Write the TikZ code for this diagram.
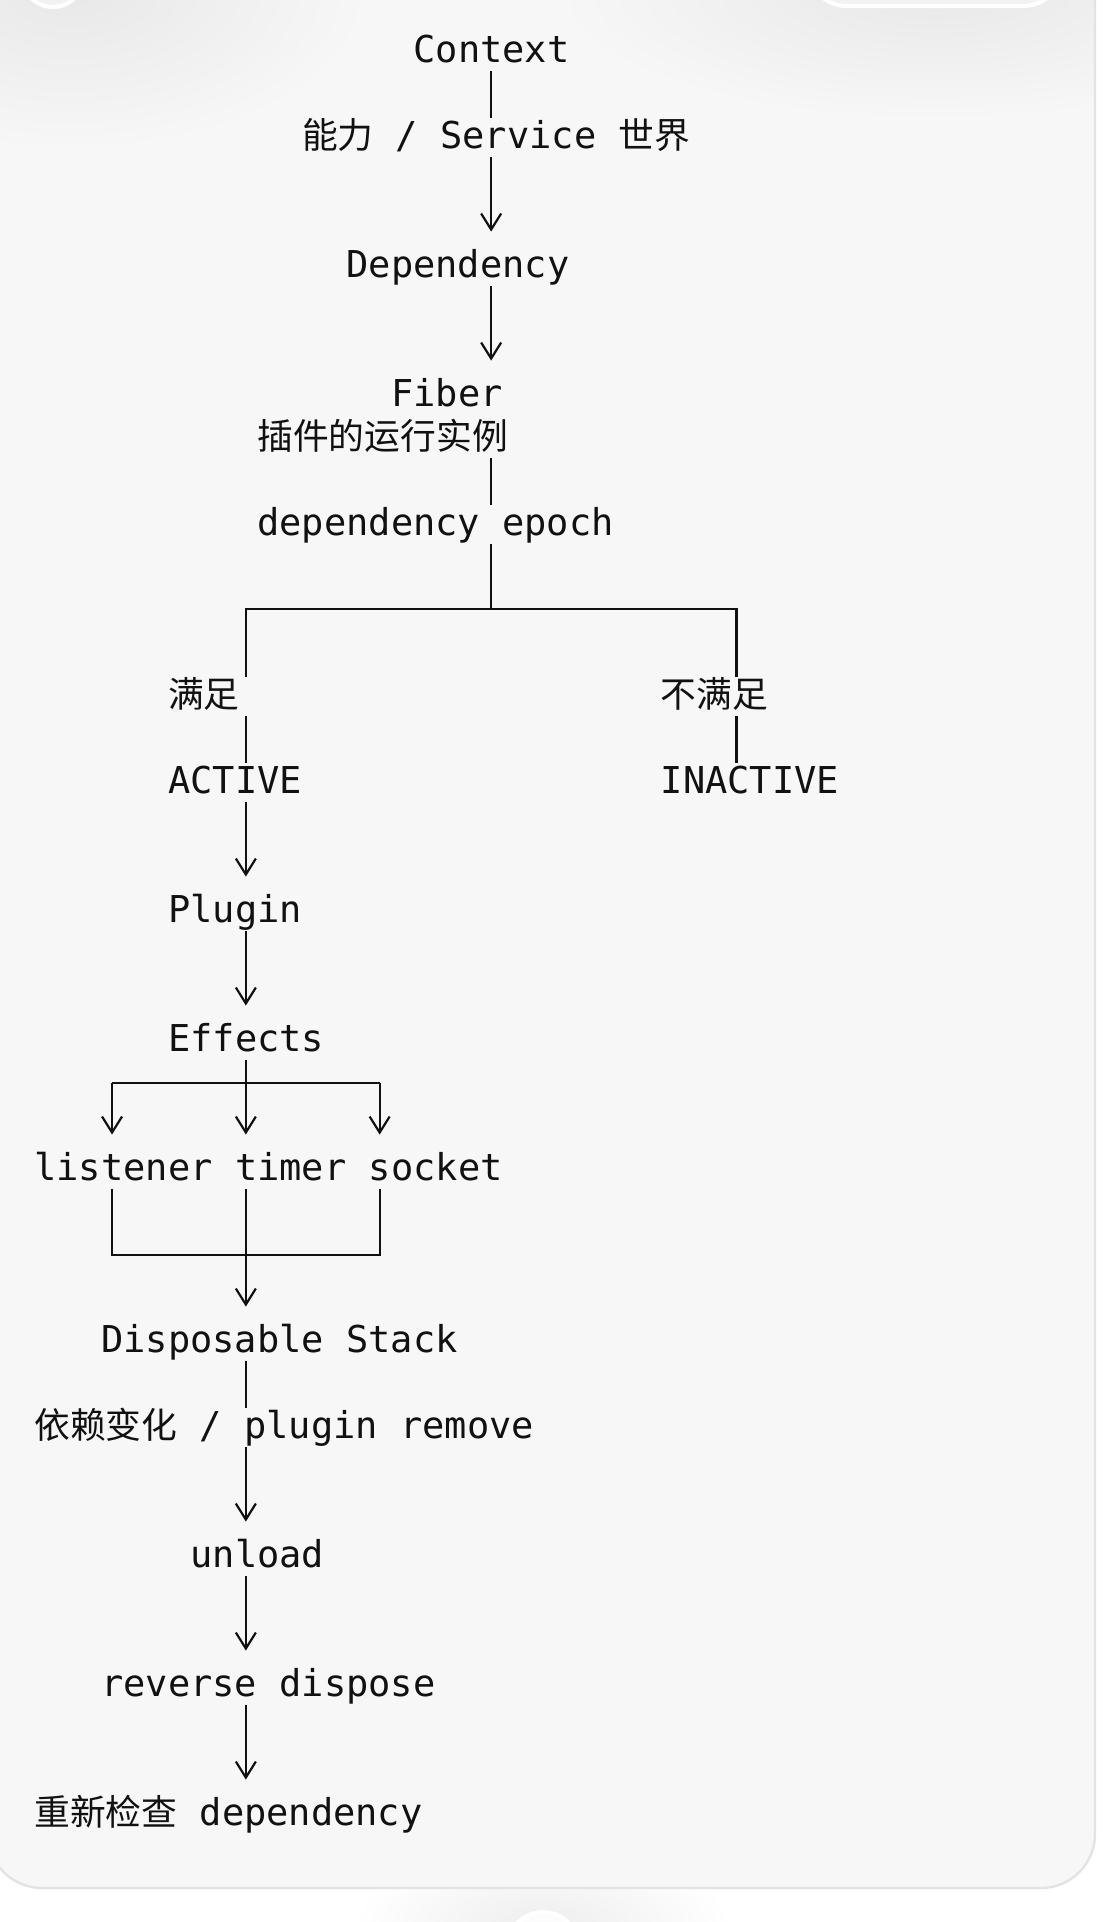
\documentclass[tikz,border=0pt]{standalone}
\usepackage{fontspec}
\usetikzlibrary{arrows.meta,calc}
\newfontfamily\monof{DejaVu Sans Mono}
\newfontfamily\cjk{Noto Sans CJK SC}[Scale=0.967]
\definecolor{cardbg}{HTML}{F7F7F7}
\definecolor{cardedge}{HTML}{E3E3E3}
\definecolor{ink}{HTML}{111111}
\definecolor{btnfill}{HTML}{F2F2F2}
\begin{document}
\begin{tikzpicture}[x=0.5pt,y=-0.5pt,
  txt/.style={anchor=base west, inner sep=0pt, text height=15pt, text depth=4.5pt,
              text=ink, font=\monof\fontsize{18.5pt}{21.5pt}\selectfont},
  wire/.style={draw=ink, line width=1.1pt},
  arr/.style={wire, -{Straight Barb[length=8pt,width=10pt,line width=1.1pt]}, shorten >=7.5pt},
]
\useasboundingbox (0,0) rectangle (1110,1922);
\fill[white] (0,0) rectangle (1110,1922);

% bottom glow and button below the card
\begin{scope}
  \clip (0,1889) rectangle (1110,1922);
  \shade[inner color=black!7, outer color=white] (543,1930) ellipse (95pt and 45pt);
\end{scope}

% card
\path[fill=cardbg, rounded corners=27pt] (-12,-80) rectangle (1095,1888);
\begin{scope}
  \clip[rounded corners=27pt] (-12,-80) rectangle (1095,1888);
  \shade[inner color=black!9, outer color=cardbg] (70,-10) ellipse (150pt and 80pt);
  \shade[inner color=black!9, outer color=cardbg] (935,-10) ellipse (190pt and 65pt);
\end{scope}
\draw[cardedge, line width=1.2pt, rounded corners=27pt] (-12,-80) rectangle (1095,1888);

% floating buttons (partially visible)
\filldraw[fill=btnfill, draw=white, line width=2pt] (53,-24) circle (15.5pt);
\filldraw[fill=btnfill, draw=white, line width=2pt, rounded corners=20pt] (807,-70) rectangle (1063,6);
\filldraw[fill=white!60!cardbg, draw=white, line width=2pt] (543,1947) circle (17.5pt);

% columns and junctions
\coordinate (cM) at (491.15,0);
\coordinate (cL) at (245.85,0);
\coordinate (cR) at (736.45,0);
\coordinate (e1) at (112.05,0);
\coordinate (e3) at (379.65,0);
\coordinate (j1) at (491.15,609);
\coordinate (j2) at (245.85,1083);
\coordinate (j3) at (245.85,1255);

% text nodes
\node[txt] (ctx)  at (413.1,62)   {Context};
\node[txt] (svc)  at (301.6,148)  {{\cjk 能力} / Service {\cjk 世界}};
\node[txt] (dep)  at (346.2,277)  {Dependency};
\node[txt] (fib)  at (390.8,406)  {Fiber};
\node[txt] (inst) at (257.0,449)  {{\cjk 插件的运行实例}};
\node[txt] (epo)  at (257.0,535)  {dependency epoch};
\node[txt] (sat)  at (167.8,707)  {{\cjk 满足}};
\node[txt] (uns)  at (660.4,707)  {{\cjk 不满足}};
\node[txt] (act)  at (167.8,793)  {ACTIVE};
\node[txt] (ina)  at (660.4,793)  {INACTIVE};
\node[txt] (plg)  at (167.8,922)  {Plugin};
\node[txt] (eff)  at (167.8,1051) {Effects};
\node[txt] (lst)  at (34.0,1180)  {listener};
\node[txt] (tim)  at (234.7,1180) {timer};
\node[txt] (sck)  at (368.5,1180) {socket};
\node[txt] (dsp)  at (100.9,1352) {Disposable Stack};
\node[txt] (chg)  at (34.0,1438)  {{\cjk 依赖变化} / plugin remove};
\node[txt] (unl)  at (190.1,1567) {unload};
\node[txt] (rev)  at (100.9,1696) {reverse dispose};
\node[txt] (rec)  at (34.0,1825)  {{\cjk 重新检查} dependency};

% connectors
\draw[wire] (ctx.south -| cM) -- (svc.north -| cM);
\draw[arr]  (svc.south -| cM) -- (dep.north -| cM);
\draw[arr]  (dep.south -| cM) -- (fib.north -| cM);
\draw[wire] (inst.south -| cM) -- (epo.north -| cM);
\draw[wire] (epo.south -| cM) -- (j1);
\draw[wire] (sat.north -| cL) |- (j1) -| (uns.north -| cR);
\draw[wire] (sat.south -| cL) -- (act.north -| cL);
\draw[wire] (uns.south -| cR) -- (ina.north -| cR);
\draw[arr]  (act.south -| cL) -- (plg.north -| cL);
\draw[arr]  (plg.south -| cL) -- (eff.north -| cL);
\draw[wire] (eff.south -| cL) -- (j2);
\draw[wire] (j2 -| e1) -- (j2 -| e3);
\draw[arr]  (j2 -| e1) -- (lst.north -| e1);
\draw[arr]  (j2) -- (tim.north -| cL);
\draw[arr]  (j2 -| e3) -- (sck.north -| e3);
\draw[wire] (lst.south -| e1) |- (j3) -| (sck.south -| e3);
\draw[wire] (tim.south -| cL) -- (j3);
\draw[arr]  (j3) -- (dsp.north -| cL);
\draw[wire] (dsp.south -| cL) -- (chg.north -| cL);
\draw[arr]  (chg.south -| cL) -- (unl.north -| cL);
\draw[arr]  (unl.south -| cL) -- (rev.north -| cL);
\draw[arr]  (rev.south -| cL) -- (rec.north -| cL);
\end{tikzpicture}
\end{document}
